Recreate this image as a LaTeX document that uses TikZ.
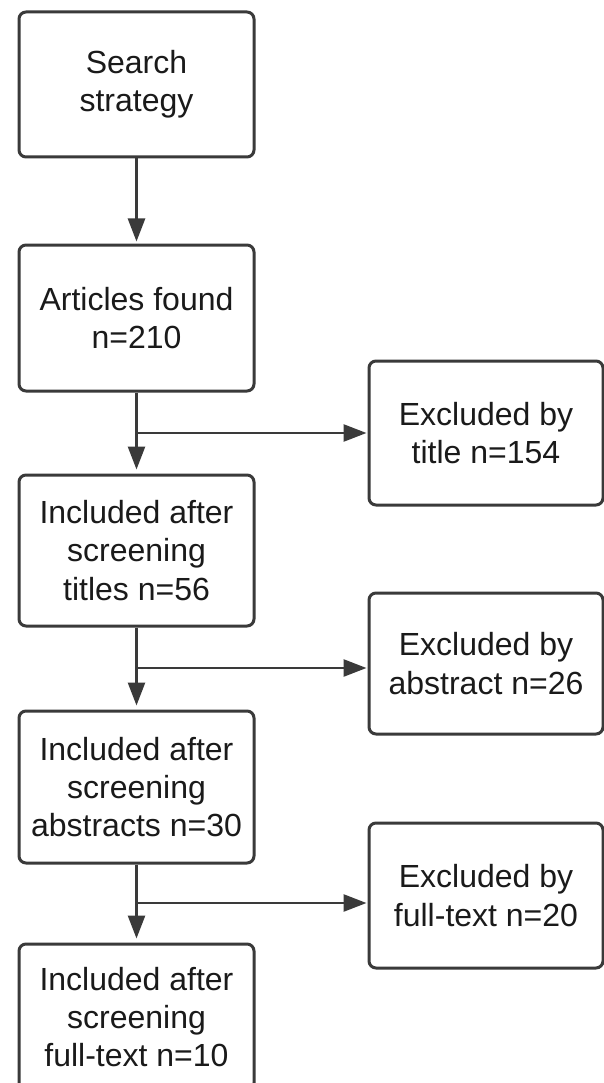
\documentclass[tikz,border=0pt]{standalone}
\usepackage{fontspec}
\setmainfont{Liberation Sans}
\usetikzlibrary{arrows.meta}
\definecolor{edge}{HTML}{3A3A3A}
\definecolor{ink}{HTML}{1A1A1A}
\begin{document}
\begin{tikzpicture}[x=1pt,y=-1pt,
  box/.style={draw=edge, line width=3pt, rounded corners=7pt, fill=white,
    text=ink, align=center, inner sep=0pt,
    font=\fontsize{32}{38.3}\selectfont},
  conn/.style={draw=edge, line width=2.6pt,
    -{Triangle[length=23pt,width=17pt]}}]
\useasboundingbox[fill=white] (0,0) rectangle (604,1083);
% left column
\node[box, minimum width=235pt, minimum height=145pt] (s1) at (136.5,84.5) {Search\\strategy};
\node[box, minimum width=235pt, minimum height=146pt] (s2) at (136.5,318) {Articles found\\n=210};
\node[box, minimum width=235pt, minimum height=151pt] (s3) at (136.5,550.5) {Included after\\screening\\titles n=56};
\node[box, minimum width=235pt, minimum height=152pt] (s4) at (136.5,787) {Included after\\screening\\abstracts n=30};
\node[box, minimum width=235pt, minimum height=146pt] (s5) at (136.5,1017) {Included after\\screening\\full-text n=10};
% right column
\node[box, minimum width=234pt, minimum height=144pt] (r1) at (486,433) {Excluded by\\title n=154};
\node[box, minimum width=234pt, minimum height=141pt] (r2) at (486,663.5) {Excluded by\\abstract n=26};
\node[box, minimum width=234pt, minimum height=145pt] (r3) at (486,895.5) {Excluded by\\full-text n=20};
% branch points
\coordinate (j1) at (136.5,433);
\coordinate (j2) at (136.5,668);
\coordinate (j3) at (136.5,903);
% connectors
\draw[conn, shorten >=2pt] (s1.south) -- (s2.north);
\draw[conn, shorten >=4pt] (s2.south) -- (s3.north);
\draw[conn, shorten >=4pt] (s3.south) -- (s4.north);
\draw[conn, shorten >=4pt] (s4.south) -- (s5.north);
\draw[conn, shorten >=1pt] (j1) -- (j1 -| r1.west);
\draw[conn, shorten >=1pt] (j2) -- (j2 -| r2.west);
\draw[conn, shorten >=1pt] (j3) -- (j3 -| r3.west);
\end{tikzpicture}
\end{document}
